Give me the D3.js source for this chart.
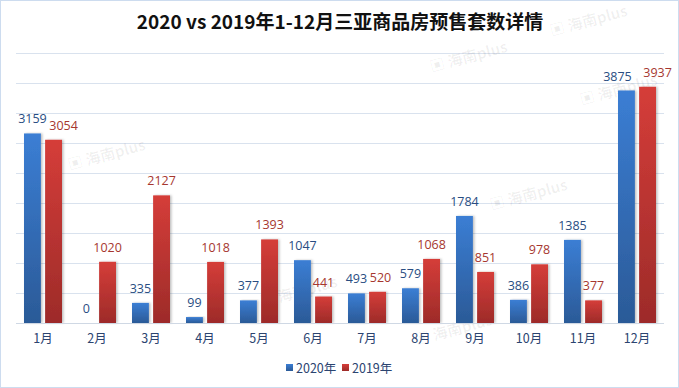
<!DOCTYPE html>
<html>
<head>
<meta charset="utf-8">
<script src="https://cdn.jsdelivr.net/npm/d3@7"></script>
<style>
    html, body { margin: 0; padding: 0; background: #fff; }
    svg { display: block; font-family: "Noto Sans CJK SC", "Noto Sans", sans-serif; }
</style>
</head>
<body>
<svg id="chart" width="679" height="388"></svg>
<script>
    const months = ["1月", "2月", "3月", "4月", "5月", "6月", "7月", "8月", "9月", "10月", "11月", "12月"];
    const series = ["2020年", "2019年"];
    const sales2020 = [3159, 0, 335, 99, 377, 1047, 493, 579, 1784, 386, 1385, 3875];
    const sales2019 = [3054, 1020, 2127, 1018, 1393, 441, 520, 1068, 851, 978, 377, 3937];
    const yTicks = [0, 500, 1000, 1500, 2000, 2500, 3000, 3500, 4000, 4500];

    const W = 679, H = 388;
    const plotLeft = 16, plotRight = 664, plotTop = 53, plotBottom = 323;

    const svg = d3.select("#chart");

    // gradients for the bars
    const defs = svg.append("defs");
    const grads = [["gBlue", "#3b7ed4", "#2b5a97"], ["gRed", "#d53d39", "#9d2b29"]];
    grads.forEach(g => {
        const lg = defs.append("linearGradient").attr("id", g[0])
            .attr("x1", 0).attr("y1", 0).attr("x2", 0).attr("y2", 1);
        lg.append("stop").attr("offset", "0%").attr("stop-color", g[1]);
        lg.append("stop").attr("offset", "100%").attr("stop-color", g[2]);
    });
    const sh = defs.append("filter").attr("id", "shadow")
        .attr("x", "-20%").attr("y", "-5%").attr("width", "150%").attr("height", "115%");
    sh.append("feDropShadow").attr("dx", 1.5).attr("dy", 0).attr("stdDeviation", 1)
        .attr("flood-color", "#000").attr("flood-opacity", 0.25);

    // frame
    svg.append("rect").attr("x", 0.5).attr("y", 0.5).attr("width", W - 1).attr("height", H - 1)
        .attr("fill", "#fff").attr("stroke", "#cddcef");

    // title
    svg.append("text")
        .attr("x", 340).attr("y", 29)
        .attr("text-anchor", "middle")
        .attr("font-size", 19).attr("font-weight", "bold").attr("fill", "#111")
        .text("2020 vs 2019年1-12月三亚商品房预售套数详情");

    const x = d3.scaleBand().domain(months).range([plotLeft, plotRight]);
    const x1 = d3.scaleBand().domain(series).range([0, 38]).paddingInner(0.2);
    const y = d3.scaleLinear().domain([0, 4500]).range([plotBottom, plotTop]);

    // gridlines
    svg.append("g").selectAll("line").data(yTicks.slice(1)).join("line")
        .attr("x1", plotLeft).attr("x2", plotRight)
        .attr("y1", d => Math.round(y(d)) + 0.5).attr("y2", d => Math.round(y(d)) + 0.5)
        .attr("stroke", "#d9e2ee").attr("stroke-width", 1);

    // watermarks
    const marks = [[108, 160], [300, 297], [470, 62], [620, 95], [530, 200], [590, 26], [455, 335]];
    marks.forEach(m => {
        svg.append("text").attr("transform", `translate(${m[0]},${m[1]}) rotate(-15)`)
            .attr("text-anchor", "middle").attr("font-size", 15).attr("font-weight", "bold")
            .attr("fill", "#000").attr("fill-opacity", 0.06)
            .text("▣ 海南plus");
    });

    const rows = months.map((m, i) => ({ m, vals: [sales2020[i], sales2019[i]] }));
    const fills = ["url(#gBlue)", "url(#gRed)"];
    const labelColors = ["#294d82", "#a6372f"];
    const offset = (x.bandwidth() - 38) / 2;

    const groups = svg.append("g").selectAll("g").data(rows).join("g")
        .attr("transform", d => `translate(${x(d.m) + offset},0)`);

    groups.selectAll("rect").data(d => d.vals).join("rect")
        .attr("x", (d, i) => x1(series[i]))
        .attr("y", d => y(d))
        .attr("width", x1.bandwidth())
        .attr("height", d => plotBottom - y(d))
        .attr("fill", (d, i) => fills[i])
        .attr("filter", "url(#shadow)");

    // value labels, nudged apart when two labels would collide
    groups.each(function (d) {
        const g = d3.select(this);
        const [a, b] = d.vals;
        const close = Math.abs(y(a) - y(b)) < 14;
        const collide = close && String(a).length + String(b).length >= 8;
        d.vals.forEach((v, i) => {
            let dx = 0;
            if (collide) {
                if (i === 1) dx = 10;
                else if (a < b) dx = -9;
            } else if (close && i === 1) {
                dx = 3;
            }
            g.append("text")
                .attr("x", x1(series[i]) + x1.bandwidth() / 2 + dx)
                .attr("y", y(v) - 10)
                .attr("text-anchor", "middle")
                .attr("font-family", "'Open Sans', 'Noto Sans', sans-serif")
                .attr("font-size", 12.5)
                .attr("fill", labelColors[i])
                .text(v);
        });
    });

    // baseline axis
    svg.append("line").attr("x1", plotLeft).attr("x2", plotRight)
        .attr("y1", plotBottom + 0.5).attr("y2", plotBottom + 0.5)
        .attr("stroke", "#cfd8e4");

    svg.append("g").selectAll("text").data(months).join("text")
        .attr("x", d => x(d) + x.bandwidth() / 2)
        .attr("y", 343)
        .attr("text-anchor", "middle")
        .attr("font-size", 12.5)
        .attr("fill", "#2b4470")
        .text(d => d);

    // legend
    const legend = svg.append("g").attr("transform", "translate(286,368)");
    const legendX = [0, 56];
    series.forEach((s, i) => {
        const lg = legend.append("g").attr("transform", `translate(${legendX[i]},0)`);
        lg.append("rect").attr("x", 0).attr("y", -4).attr("width", 7).attr("height", 7)
            .attr("fill", fills[i]);
        lg.append("text").attr("x", 10).attr("y", 4.5)
            .attr("font-size", 12.5).attr("fill", "#2b4470")
            .text(s);
    });
</script>
</body>
</html>
